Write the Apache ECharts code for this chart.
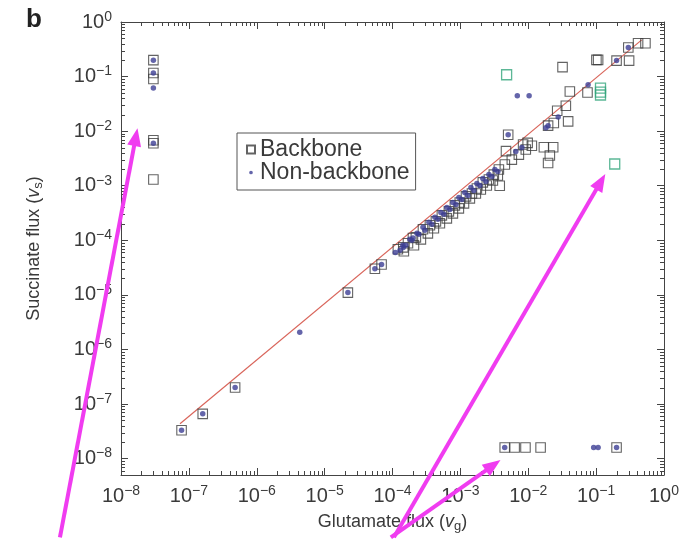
<!DOCTYPE html>
<html>
<head>
<meta charset="utf-8">
<script src="https://cdn.jsdelivr.net/npm/echarts@6/dist/echarts.min.js"></script>
<style>
  html, body { margin: 0; padding: 0; background: #ffffff; }
  #chart { width: 695px; height: 539px; }
</style>
</head>
<body>
<div id="chart"></div>
<script>
// Flux pairs [glutamate flux v_g, succinate flux v_s]

// Backbone reactions (open squares)
const backbonePoints = [
  [3.0e-8, 0.20], [3.0e-8, 0.116], [3.0e-8, 0.09], [3.0e-8, 0.0068], [3.0e-8, 0.006], [3.0e-8, 0.0013],
  [7.8e-8, 3.3e-8], [1.6e-7, 6.6e-8], [4.8e-7, 2.0e-7],
  [2.2e-5, 1.1e-5], [5.5e-5, 3.0e-5], [6.9e-5, 3.6e-5], [1.44e-4, 7.4e-5], [2.0e-4, 1.1e-4],
  [1.20e-4, 6.85e-5], [1.69e-4, 8.8e-5], [2.21e-4, 1.13e-4], [2.81e-4, 1.59e-4], [3.56e-4, 1.88e-4],
  [4.36e-4, 2.22e-4], [5.34e-4, 2.86e-4], [6.77e-4, 3.39e-4], [8.3e-4, 4.36e-4], [9.8e-4, 4.94e-4],
  [1.21e-3, 6.37e-4], [1.48e-3, 7.2e-4], [1.75e-3, 8.9e-4], [2.14e-3, 1.15e-3], [2.63e-3, 1.30e-3],
  [3.11e-3, 1.60e-3], [3.69e-3, 1.98e-3], [4.52e-3, 2.44e-3], [5.73e-3, 3.01e-3], [7.27e-3, 3.72e-3],
  [9.2e-3, 4.6e-3], [0.0113, 5.4e-3],
  [1.47e-4, 6.3e-5], [2.07e-4, 8.1e-5], [2.62e-4, 1.04e-4], [3.32e-4, 1.34e-4], [4.07e-4, 1.66e-4],
  [4.99e-4, 2.05e-4], [6.32e-4, 2.52e-4], [7.76e-4, 3.11e-4], [9.5e-4, 3.84e-4], [1.13e-3, 4.74e-4],
  [1.38e-3, 5.85e-4], [1.69e-3, 7.2e-4], [2.0e-3, 8.5e-4], [2.45e-3, 1.01e-3], [3.01e-3, 1.25e-3],
  [3.56e-3, 1.54e-3],
  [3.8e-3, 1.0e-3], [4.7e-3, 4.3e-3], [5.06e-3, 8.6e-3], [9.8e-3, 6.1e-3], [8.4e-3, 5.7e-3],
  [0.017, 5.06e-3], [0.0233, 5.06e-3], [0.0208, 3.57e-3], [0.0196, 2.6e-3], [0.0196, 0.0126],
  [0.0238, 0.0141], [0.0387, 0.0151], [0.0267, 0.0237], [0.0358, 0.0292], [0.041, 0.0533],
  [0.0746, 0.0511], [0.032, 0.149], [0.101, 0.202], [0.107, 0.202], [0.20, 0.196], [0.306, 0.196],
  [0.298, 0.34], [0.415, 0.408], [0.533, 0.408],
  [4.5e-3, 1.6e-8], [6.3e-3, 1.6e-8], [9.1e-3, 1.6e-8], [0.0152, 1.6e-8], [0.20, 1.6e-8]
];

// Backbone reactions drawn in green
const greenBackbonePoints = [
  [4.8e-3, 0.108], [0.116, 0.0615], [0.116, 0.052], [0.116, 0.046], [0.188, 2.5e-3]
];

// Non-backbone reactions (filled dots)
const nonBackbonePoints = [
  [3.0e-8, 0.20], [3.0e-8, 0.116], [3.0e-8, 0.0615], [3.0e-8, 0.006],
  [7.8e-8, 3.3e-8], [1.6e-7, 6.6e-8], [4.8e-7, 2.0e-7], [4.3e-6, 2.06e-6],
  [2.2e-5, 1.1e-5], [5.5e-5, 3.0e-5], [6.9e-5, 3.6e-5], [1.1e-4, 6.0e-5], [1.44e-4, 7.4e-5], [2.0e-4, 1.1e-4],
  [1.29e-4, 6.57e-5], [1.57e-4, 8.1e-5], [1.93e-4, 1.0e-4], [2.45e-4, 1.29e-4], [3.0e-4, 1.52e-4],
  [3.8e-4, 1.96e-4], [4.66e-4, 2.42e-4], [5.71e-4, 2.99e-4], [7.0e-4, 3.68e-4], [8.6e-4, 4.55e-4],
  [1.05e-3, 5.6e-4], [1.29e-3, 6.6e-4], [1.58e-3, 8.2e-4], [1.94e-3, 1.01e-3], [2.38e-3, 1.20e-3],
  [2.91e-3, 1.48e-3], [3.56e-3, 1.82e-3], [6.56e-3, 4.22e-3], [8.05e-3, 5.0e-3], [0.0182, 0.0116],
  [1.42e-4, 8.1e-5], [1.80e-4, 1.04e-4], [2.29e-4, 1.34e-4], [2.81e-4, 1.73e-4], [3.44e-4, 2.13e-4],
  [4.21e-4, 2.63e-4], [5.16e-4, 3.24e-4], [6.32e-4, 4.0e-4], [7.76e-4, 4.94e-4], [9.5e-4, 6.1e-4],
  [1.16e-3, 7.5e-4], [1.43e-3, 9.3e-4], [1.75e-3, 1.10e-3], [2.14e-3, 1.36e-3], [2.63e-3, 1.60e-3],
  [3.22e-3, 1.98e-3],
  [5.06e-3, 8.6e-3], [0.0196, 0.0126], [0.0276, 0.0182], [6.9e-3, 0.0445], [0.0103, 0.0445],
  [0.0762, 0.0707], [0.20, 0.196], [0.298, 0.34],
  [4.5e-3, 1.6e-8], [0.092, 1.6e-8], [0.107, 1.6e-8], [0.20, 1.6e-8]
];

// Fitted trend line end points
const fitLine = [[7.4e-8, 4.35e-8], [0.47, 0.47]];

// Annotation arrows, tail and tip in data coordinates
const arrowTails = [[1.26e-9, 3.6e-10], [9.46e-5, 3.6e-10], [1.05e-4, 3.6e-10]];
const arrowTips = [[1.75e-8, 0.01135], [3.9e-3, 9.4e-9], [0.1365, 1.64e-3]];

// Axis ranges
const xRange = [1e-8, 1];
const yRange = [5e-9, 1];

const FONT = 'Liberation Sans, Arial, Helvetica, sans-serif';
const INK = '#3a3a3a';
const AXIS = '#444444';

// Minor log ticks (2..9 within each decade)
const minorX = [];
for (let k = -8; k < 0; k++) for (let m = 2; m <= 9; m++) minorX.push(m * Math.pow(10, k));
const minorY = [];
for (let k = -9; k < 0; k++) for (let m = 2; m <= 9; m++) {
  const v = m * Math.pow(10, k);
  if (v >= yRange[0]) minorY.push(v);
}
const minorTickData = minorX.map(v => [v, 1, 0]).concat(minorY.map(v => [1, v, 1]));

function powerLabel(v) {
  const lg = Math.log10(v);
  const e = Math.round(lg);
  if (Math.abs(lg - e) > 1e-6) return '';
  const exp = e < 0 ? '\u2212' + (-e) : String(e);
  return '{b|10}{s|' + exp + '}';
}

const labelRich = {
  b: { fontSize: 20, fontFamily: FONT, color: INK },
  s: { fontSize: 14, fontFamily: FONT, color: INK, padding: [0, 0, 10, 0] }
};

const nameRich = {
  n: { fontSize: 18, fontFamily: FONT, color: INK },
  i: { fontSize: 18, fontFamily: FONT, color: INK, fontStyle: 'italic' },
  sub: { fontSize: 13, fontFamily: FONT, color: INK, padding: [9, 0, 0, 0] }
};

function baseAxis(range, pos, showLabel) {
  return {
    type: 'log',
    logBase: 10,
    min: range[0],
    max: range[1],
    position: pos,
    axisLine: { show: true, lineStyle: { color: AXIS, width: 1 } },
    axisTick: { show: true, inside: true, length: 7, lineStyle: { color: AXIS, width: 1 } },
    axisLabel: showLabel
      ? { show: true, formatter: powerLabel, rich: labelRich, interval: 0, margin: 9 }
      : { show: false },
    splitLine: { show: false },
    minorTick: { show: false }
  };
}

const chart = echarts.init(document.getElementById('chart'), null, { renderer: 'canvas' });

const xBottom = Object.assign(baseAxis(xRange, 'bottom', true), {
  name: '{n|Glutamate flux (}{i|v}{sub|g}{n|)}',
  nameLocation: 'middle',
  nameGap: 36,
  nameTextStyle: { rich: nameRich }
});
const yLeft = Object.assign(baseAxis(yRange, 'left', true), {
  name: '{n|Succinate flux (}{i|v}{sub|s}{n|)}',
  nameLocation: 'middle',
  nameGap: 76,
  nameRotate: 90,
  nameTextStyle: { rich: nameRich }
});

// Small dot icon inside a 10x10 box, so the legend dot stays small
const dotIcon = 'path://M0,0L0.01,0M10,10L10.01,10M7.3,5A2.3,2.3,0,1,1,2.7,5A2.3,2.3,0,1,1,7.3,5Z';

chart.setOption({
  animation: false,
  backgroundColor: '#ffffff',
  title: {
    text: 'b',
    left: 26,
    top: 7,
    padding: 0,
    textStyle: { fontSize: 26, fontWeight: 900, fontFamily: FONT, color: '#222' }
  },
  grid: { left: 121, right: 31, top: 22, bottom: 64, containLabel: false },
  legend: {
    orient: 'vertical',
    left: 237,
    top: 133,
    padding: [5, 6, 6, 9],
    itemGap: 0,
    itemWidth: 8,
    itemHeight: 8,
    borderColor: '#555',
    borderWidth: 1,
    selectedMode: false,
    textStyle: { fontSize: 23, fontFamily: FONT, color: INK },
    data: [
      { name: 'Backbone', icon: 'rect' },
      { name: 'Non-backbone', icon: dotIcon }
    ]
  },
  xAxis: [xBottom, baseAxis(xRange, 'top', false)],
  yAxis: [yLeft, baseAxis(yRange, 'right', false)],
  series: [
    {
      name: 'fit',
      type: 'line',
      data: fitLine,
      symbol: 'none',
      lineStyle: { color: '#d9655b', width: 1.2 },
      silent: true,
      z: 1
    },
    {
      name: 'Backbone',
      type: 'scatter',
      symbol: 'rect',
      symbolSize: 9.5,
      itemStyle: { color: 'rgba(255,255,255,0)', borderColor: '#3c3c3c', borderWidth: 1.1 },
      data: backbonePoints,
      z: 3
    },
    {
      name: 'Backbone',
      type: 'scatter',
      symbol: 'rect',
      symbolSize: 10,
      itemStyle: { color: 'rgba(255,255,255,0)', borderColor: '#33a57c', borderWidth: 1.3 },
      data: greenBackbonePoints,
      z: 3
    },
    {
      name: 'Non-backbone',
      type: 'scatter',
      symbol: 'circle',
      symbolSize: 5.5,
      itemStyle: { color: '#3d3f95' },
      data: nonBackbonePoints,
      z: 4
    },
    {
      name: 'minor ticks',
      type: 'custom',
      silent: true,
      clip: false,
      z: 5,
      encode: { x: 0, y: 1 },
      data: minorTickData,
      renderItem: function (params, api) {
        const cs = params.coordSys;
        const p = api.coord([api.value(0), api.value(1)]);
        const L = 4;
        const st = { stroke: AXIS, lineWidth: 1 };
        if (api.value(2) === 0) {
          const x = Math.round(p[0]) + 0.5;
          return {
            type: 'group',
            children: [
              { type: 'line', shape: { x1: x, y1: cs.y + cs.height, x2: x, y2: cs.y + cs.height - L }, style: st },
              { type: 'line', shape: { x1: x, y1: cs.y, x2: x, y2: cs.y + L }, style: st }
            ]
          };
        }
        const y = Math.round(p[1]) + 0.5;
        return {
          type: 'group',
          children: [
            { type: 'line', shape: { x1: cs.x, y1: y, x2: cs.x + L, y2: y }, style: st },
            { type: 'line', shape: { x1: cs.x + cs.width, y1: y, x2: cs.x + cs.width - L, y2: y }, style: st }
          ]
        };
      }
    }
  ]
});

// Magenta annotation arrows
const ARROW = '#f03cf0';
const arrowGraphics = [];
arrowTips.forEach(function (tipVal, i) {
  const tail = chart.convertToPixel({ xAxisIndex: 0, yAxisIndex: 0 }, arrowTails[i]);
  const tip = chart.convertToPixel({ xAxisIndex: 0, yAxisIndex: 0 }, tipVal);
  const dx = tip[0] - tail[0], dy = tip[1] - tail[1];
  const len = Math.sqrt(dx * dx + dy * dy);
  const ux = dx / len, uy = dy / len;
  const headLen = 18, headHalf = 7;
  const bx = tip[0] - ux * headLen, by = tip[1] - uy * headLen;
  arrowGraphics.push({
    type: 'line',
    z: 100,
    shape: { x1: tail[0], y1: tail[1], x2: bx + ux * 2, y2: by + uy * 2 },
    style: { stroke: ARROW, lineWidth: 4 }
  });
  arrowGraphics.push({
    type: 'polygon',
    z: 100,
    shape: { points: [[tip[0], tip[1]], [bx - uy * headHalf, by + ux * headHalf], [bx + uy * headHalf, by - ux * headHalf]] },
    style: { fill: ARROW }
  });
});
chart.setOption({ graphic: arrowGraphics });
</script>
</body>
</html>
